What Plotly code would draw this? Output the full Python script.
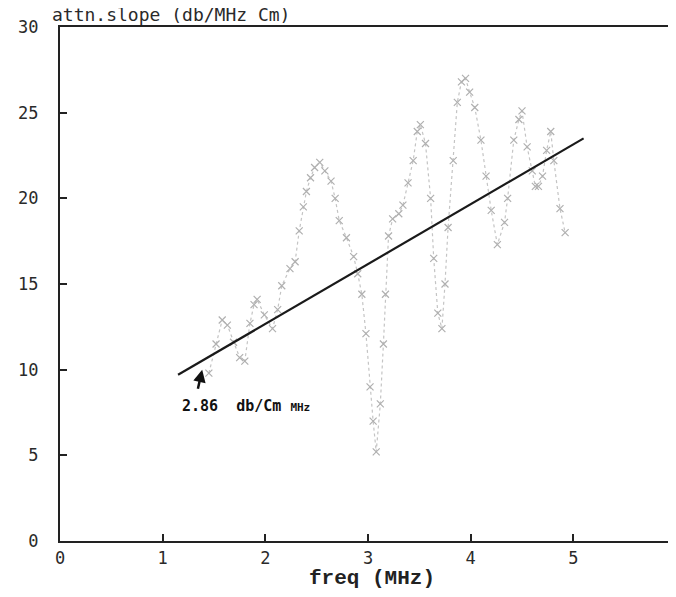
import plotly.graph_objects as go

freq = [1.45, 1.52, 1.58, 1.63, 1.69, 1.75, 1.80, 1.85, 1.89, 1.92, 1.99, 2.07, 2.12, 2.16,
        2.24, 2.29, 2.33, 2.37, 2.40, 2.44, 2.48, 2.53, 2.58, 2.64, 2.68, 2.72, 2.79, 2.86,
        2.90, 2.94, 2.98, 3.02, 3.05, 3.08, 3.12, 3.15, 3.17, 3.20, 3.24, 3.30, 3.34, 3.39,
        3.44, 3.48, 3.51, 3.56, 3.61, 3.64, 3.68, 3.72, 3.75, 3.78, 3.83, 3.87, 3.91, 3.95,
        3.99, 4.04, 4.10, 4.15, 4.20, 4.26, 4.33, 4.36, 4.42, 4.47, 4.50, 4.55, 4.60, 4.63,
        4.66, 4.70, 4.74, 4.78, 4.81, 4.87, 4.92]
slope = [9.8, 11.5, 12.9, 12.6, 11.6, 10.7, 10.5, 12.7, 13.8, 14.1, 13.2, 12.4, 13.5, 14.9,
         15.9, 16.3, 18.1, 19.5, 20.4, 21.2, 21.8, 22.1, 21.6, 21.0, 20.0, 18.7, 17.7, 16.6,
         15.6, 14.4, 12.1, 9.0, 7.0, 5.2, 8.0, 11.5, 14.4, 17.8, 18.8, 19.1, 19.6, 20.9,
         22.2, 23.9, 24.3, 23.2, 20.0, 16.5, 13.3, 12.4, 15.0, 18.3, 22.2, 25.6, 26.8, 27.0,
         26.2, 25.3, 23.4, 21.3, 19.3, 17.3, 18.6, 20.0, 23.4, 24.6, 25.1, 23.0, 21.6, 20.7,
         20.7, 21.3, 22.8, 23.9, 22.2, 19.4, 18.0]

# least-squares fit line end points
fit_freq = [1.15, 5.10]
fit_slope = [9.7, 23.5]

x_ticks = [0, 1, 2, 3, 4, 5, 6]
y_ticks = [0, 5, 10, 15, 20, 25, 30]

mono = "DejaVu Sans Mono"

fig = go.Figure()
fig.add_trace(go.Scatter(
    x=freq, y=slope, mode="lines+markers",
    line=dict(color="#c4c4c4", width=1.2, dash="dot"),
    marker=dict(symbol="x-thin", size=7, line=dict(color="#b0b0b0", width=1.2)),
    showlegend=False, hoverinfo="skip"))
fig.add_trace(go.Scatter(
    x=fit_freq, y=fit_slope, mode="lines",
    line=dict(color="#1a1a1a", width=2.2),
    showlegend=False, hoverinfo="skip"))

fig.update_layout(
    width=676, height=597,
    margin=dict(l=52, r=8, t=19, b=64),
    paper_bgcolor="white", plot_bgcolor="white",
    font=dict(family=mono, color="#2a2a2a", size=17),
    xaxis=dict(range=[0, 6], tickvals=x_ticks, ticktext=[str(v) for v in x_ticks],
               automargin=False,
               showgrid=False, zeroline=False, showline=True, mirror=True,
               linecolor="#222", linewidth=2, ticks="inside", ticklen=7,
               tickcolor="#222", tickwidth=1.5,
               tickfont=dict(family=mono, size=17, color="#2a2a2a"),
               ticklabelstandoff=1),
    yaxis=dict(range=[0, 30], tickvals=y_ticks, ticktext=[str(v) for v in y_ticks],
               automargin=False,
               showgrid=False, zeroline=False, showline=True, mirror=True,
               linecolor="#222", linewidth=2, ticks="inside", ticklen=7,
               tickcolor="#222", tickwidth=1.5,
               tickfont=dict(family=mono, size=17, color="#2a2a2a"),
               ticklabelstandoff=16),
)

fig.add_annotation(text="attn.slope (db/MHz Cm)", xref="paper", yref="paper",
                   x=-0.016, y=1.0, xanchor="left", yanchor="bottom", yshift=0,
                   showarrow=False, font=dict(family=mono, size=18, color="#2a2a2a"))
fig.add_annotation(text="<b>freq (MHz)</b>", xref="paper", yref="paper",
                   x=0.507, y=0, xanchor="center", yanchor="top", yshift=-24,
                   showarrow=False, font=dict(family="Liberation Mono", size=21, color="#222"))
fig.add_annotation(text="<b>2.86  db/Cm <span style='font-size:11px'>MHz</span></b>",
                   x=1.17, y=7.9, xanchor="left", yanchor="middle",
                   showarrow=False, font=dict(family=mono, size=15, color="#111"))
fig.add_annotation(x=1.385, y=10.0, ax=1.34, ay=8.8, xref="x", yref="y",
                   axref="x", ayref="y", text="", showarrow=True,
                   arrowhead=2, arrowsize=1.0, arrowwidth=2.5, arrowcolor="#111")

fig.write_html("out.html")
